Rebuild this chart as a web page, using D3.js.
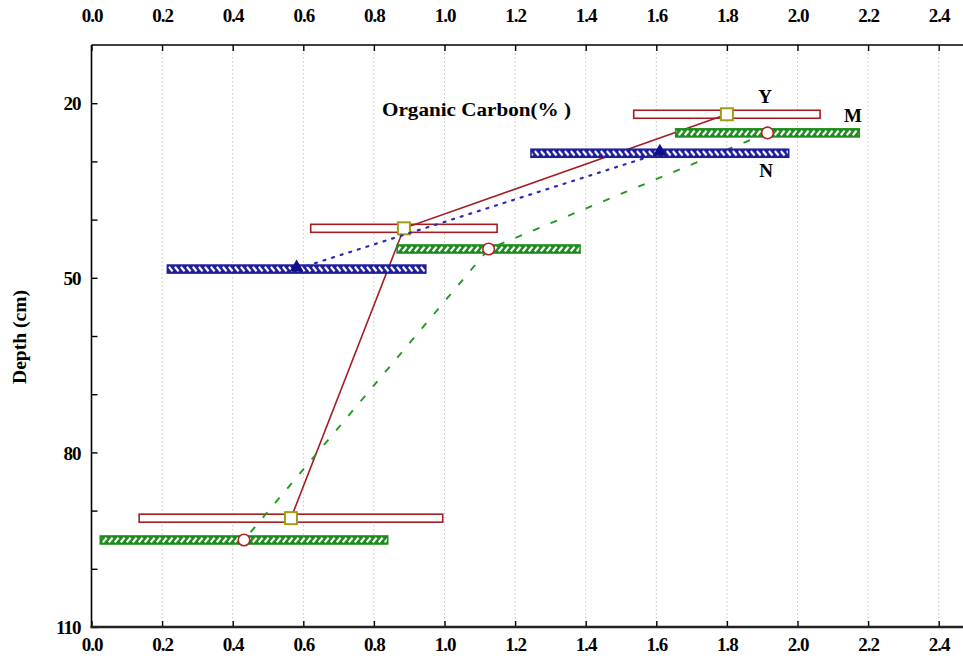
<!DOCTYPE html>
<html>
<head>
<meta charset="utf-8">
<script src="https://cdn.jsdelivr.net/npm/d3@7"></script>
<style>
  html, body { margin: 0; padding: 0; background: #fff; }
  svg { display: block; }
  text { font-family: "Liberation Serif", "DejaVu Serif", serif; font-weight: bold; fill: #000; }
</style>
</head>
<body>
<svg id="chart" width="963" height="664"></svg>
<script>
// Organic carbon (%) by depth (cm): mean with +/- spread for three profiles
const seriesNames = ["Y", "M", "N"];

const depthY = [21.9, 41.5, 91.3];
const carbonY = [1.80, 0.885, 0.565];
const spreadY = [0.264, 0.264, 0.43];

const depthM = [25.1, 45.05, 95.05];
const carbonM = [1.915, 1.125, 0.432];
const spreadM = [0.26, 0.259, 0.407];

const depthN = [28.6, 48.5];
const carbonN = [1.61, 0.581];
const spreadN = [0.365, 0.366];

const xTicks = [0.0, 0.2, 0.4, 0.6, 0.8, 1.0, 1.2, 1.4, 1.6, 1.8, 2.0, 2.2, 2.4];
const depthTicks = [20, 30, 40, 50, 60, 70, 80, 90, 100, 110];
const depthLabels = [20, 50, 80, 110];

const W = 963, H = 664;
const svg = d3.select("#chart");
const serif = "'Liberation Serif', 'DejaVu Serif', serif";

const x = d3.scaleLinear().domain([0, 2.6]).range([91.5, 91.5 + 2.6 * 353]);
const y = d3.scaleLinear().domain([10, 110]).range([45, 627]);

const styles = {
  Y: { edge: "#a51d24", line: "#a51d24", dash: null, width: 1.6, hatch: null },
  M: { edge: "#1c8c1c", line: "#1f9a1f", dash: "7,12", width: 1.9, hatch: "/" },
  N: { edge: "#1e1e9c", line: "#2a2ab4", dash: "2,7", width: 2.2, hatch: "\\" }
};

const profiles = [
  { name: "Y", depth: depthY, carbon: carbonY, spread: spreadY },
  { name: "M", depth: depthM, carbon: carbonM, spread: spreadM },
  { name: "N", depth: depthN, carbon: carbonN, spread: spreadN }
].map(p => ({ ...p, rows: p.depth.map((d, i) => ({ depth: d, c: p.carbon[i], s: p.spread[i] })) }));

// vertical dotted grid
svg.append("g").selectAll("line").data(xTicks.filter(v => v > 0)).join("line")
  .attr("x1", d => x(d)).attr("x2", d => x(d))
  .attr("y1", y(10)).attr("y2", y(110))
  .attr("stroke", "#c4c4c4").attr("stroke-width", 1)
  .attr("stroke-dasharray", "1.5,2.5");

// axes
const fmt = d3.format(".1f");
const gBottom = svg.append("g").attr("transform", `translate(0,${y(110)})`)
  .call(d3.axisBottom(x).tickValues(xTicks).tickSize(-6).tickPadding(11).tickFormat(fmt));
const gTop = svg.append("g").attr("transform", `translate(0,${y(10)})`)
  .call(d3.axisTop(x).tickValues(xTicks).tickSize(-6).tickPadding(23).tickFormat(fmt));
const gLeft = svg.append("g").attr("transform", `translate(${x(0)},0)`)
  .call(d3.axisLeft(y).tickValues(depthTicks).tickSize(-6).tickPadding(11)
    .tickFormat(d => depthLabels.includes(d) ? d : ""));
[gBottom, gTop, gLeft].forEach(g => {
  g.attr("font-family", serif).attr("font-size", 19).attr("font-weight", "bold");
  g.select(".domain").remove();
  g.selectAll(".tick line").attr("stroke", "#000").attr("stroke-width", 1.4);
  g.selectAll(".tick text").attr("fill", "#000").attr("letter-spacing", "-1px");
});
gLeft.selectAll(".tick text").attr("dy", "0.35em");

// frame
svg.append("line").attr("x1", x(0)).attr("x2", W).attr("y1", y(10)).attr("y2", y(10))
  .attr("stroke", "#000").attr("stroke-width", 1.6);
svg.append("line").attr("x1", x(0)).attr("x2", x(0)).attr("y1", y(10)).attr("y2", y(110) + 1)
  .attr("stroke", "#000").attr("stroke-width", 1.6);
svg.append("line").attr("x1", x(0) - 1).attr("x2", W).attr("y1", y(110)).attr("y2", y(110))
  .attr("stroke", "#222").attr("stroke-width", 2.4);

// hatch patterns, one per bar so each row of marks sits inside its bar
const barH = 8;
const defs = svg.append("defs");
profiles.forEach(p => {
  const st = styles[p.name];
  if (!st.hatch) return;
  p.rows.forEach((r, i) => {
    const top = y(r.depth) - barH / 2;
    const pat = defs.append("pattern")
      .attr("id", `hatch-${p.name}-${i}`)
      .attr("patternUnits", "userSpaceOnUse")
      .attr("x", 0).attr("y", top)
      .attr("width", 6).attr("height", barH);
    pat.append("rect").attr("width", 6).attr("height", barH).attr("fill", st.edge);
    pat.append("path")
      .attr("d", st.hatch === "/" ? "M0.8,6.3 L4.6,1.7" : "M0.8,1.8 L4.6,6.2")
      .attr("stroke", "#fff").attr("stroke-width", 2.2).attr("fill", "none");
  });
});

const lineGen = d3.line().x(d => x(d.c)).y(d => y(d.depth));

profiles.forEach(p => {
  const st = styles[p.name];
  const g = svg.append("g").attr("class", `profile-${p.name}`);

  // spread bars
  g.selectAll("rect.bar").data(p.rows).join("rect")
    .attr("class", "bar")
    .attr("x", d => x(d.c - d.s))
    .attr("width", d => x(d.c + d.s) - x(d.c - d.s))
    .attr("y", d => y(d.depth) - barH / 2)
    .attr("height", barH)
    .attr("fill", (d, i) => st.hatch ? `url(#hatch-${p.name}-${i})` : "#fff")
    .attr("stroke", st.edge).attr("stroke-width", 1.6);

  // profile line
  g.append("path").datum(p.rows)
    .attr("d", lineGen)
    .attr("fill", "none")
    .attr("stroke", st.line)
    .attr("stroke-width", st.width)
    .attr("stroke-dasharray", st.dash)
    .attr("stroke-linecap", st.dash === "2,7" ? "round" : "butt");

  // markers
  if (p.name === "Y") {
    g.selectAll("rect.mk").data(p.rows).join("rect").attr("class", "mk")
      .attr("x", d => x(d.c) - 6).attr("y", d => y(d.depth) - 6)
      .attr("width", 12).attr("height", 12)
      .attr("fill", "#fff").attr("stroke", "#a39b14").attr("stroke-width", 2);
  } else if (p.name === "M") {
    g.selectAll("circle.mk").data(p.rows).join("circle").attr("class", "mk")
      .attr("cx", d => x(d.c)).attr("cy", d => y(d.depth)).attr("r", 5.8)
      .attr("fill", "#fff").attr("stroke", "#b02428").attr("stroke-width", 1.6);
  } else {
    g.selectAll("path.mk").data(p.rows).join("path").attr("class", "mk")
      .attr("transform", d => `translate(${x(d.c)},${y(d.depth) - 1.5})`)
      .attr("d", d3.symbol().type(d3.symbolTriangle).size(85))
      .attr("fill", "#10108c");
  }
});

// series labels
const seriesLabelPos = { Y: [765, 103], M: [853, 122], N: [766, 177] };
svg.append("g").selectAll("text").data(seriesNames).join("text")
  .attr("x", d => seriesLabelPos[d][0]).attr("y", d => seriesLabelPos[d][1])
  .attr("text-anchor", "middle").style("font-size", "19px").text(d => d);

// titles
svg.append("text").attr("x", 382).attr("y", 116)
  .style("font-size", "19px")
  .attr("textLength", 189).attr("lengthAdjust", "spacingAndGlyphs")
  .text("Organic Carbon(% )");

svg.append("text")
  .attr("transform", "translate(26,337) rotate(-90)")
  .attr("text-anchor", "middle")
  .style("font-size", "18px")
  .attr("textLength", 94).attr("lengthAdjust", "spacingAndGlyphs")
  .text("Depth (cm)");
</script>
</body>
</html>
